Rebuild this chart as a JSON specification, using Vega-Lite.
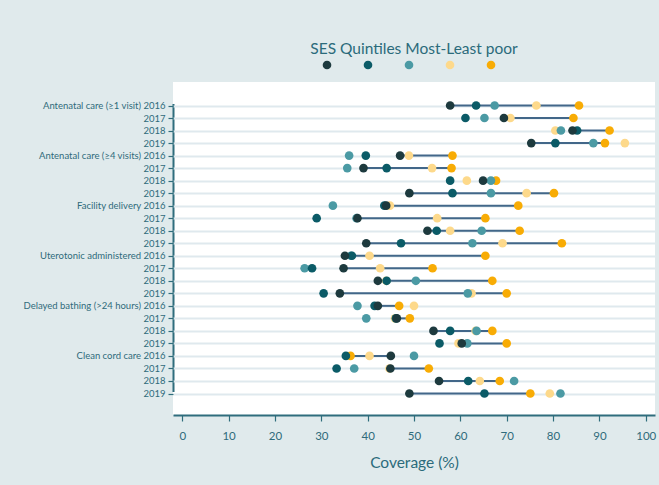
{
  "$schema": "https://vega.github.io/schema/vega-lite/v6.json",
  "width": 482,
  "height": 333,
  "autosize": {"type": "none"},
  "padding": {"left": 173, "top": 82, "right": 4, "bottom": 70},
  "background": "#e0eaec",
  "title": {"text": "SES Quintiles Most-Least poor", "frame": "group", "anchor": "middle", "fontSize": 15.5, "font": "Lato", "fontWeight": "normal", "color": "#2b6b7b", "offset": 3},
  "config": {"view": {"fill": "white", "stroke": null}, "font": "Lato"},
  "data": {"values": [
    {"r": "Antenatal care (≥1 visit)|2016", "q": "Q5", "v": 85.6}, {"r": "Antenatal care (≥1 visit)|2016", "q": "Q4", "v": 76.4}, {"r": "Antenatal care (≥1 visit)|2016", "q": "Q3", "v": 67.4}, {"r": "Antenatal care (≥1 visit)|2016", "q": "Q2", "v": 63.4}, {"r": "Antenatal care (≥1 visit)|2016", "q": "Q1", "v": 57.8},
    {"r": "Antenatal care (≥1 visit)|2017", "q": "Q5", "v": 84.4}, {"r": "Antenatal care (≥1 visit)|2017", "q": "Q4", "v": 70.8}, {"r": "Antenatal care (≥1 visit)|2017", "q": "Q3", "v": 65.2}, {"r": "Antenatal care (≥1 visit)|2017", "q": "Q2", "v": 61.1}, {"r": "Antenatal care (≥1 visit)|2017", "q": "Q1", "v": 69.4},
    {"r": "Antenatal care (≥1 visit)|2018", "q": "Q5", "v": 92.2}, {"r": "Antenatal care (≥1 visit)|2018", "q": "Q4", "v": 80.5}, {"r": "Antenatal care (≥1 visit)|2018", "q": "Q3", "v": 81.7}, {"r": "Antenatal care (≥1 visit)|2018", "q": "Q2", "v": 85.2}, {"r": "Antenatal care (≥1 visit)|2018", "q": "Q1", "v": 84.2},
    {"r": "Antenatal care (≥1 visit)|2019", "q": "Q5", "v": 91.2}, {"r": "Antenatal care (≥1 visit)|2019", "q": "Q4", "v": 95.5}, {"r": "Antenatal care (≥1 visit)|2019", "q": "Q3", "v": 88.7}, {"r": "Antenatal care (≥1 visit)|2019", "q": "Q2", "v": 80.5}, {"r": "Antenatal care (≥1 visit)|2019", "q": "Q1", "v": 75.3},
    {"r": "Antenatal care (≥4 visits)|2016", "q": "Q5", "v": 58.3}, {"r": "Antenatal care (≥4 visits)|2016", "q": "Q4", "v": 48.9}, {"r": "Antenatal care (≥4 visits)|2016", "q": "Q3", "v": 36.0}, {"r": "Antenatal care (≥4 visits)|2016", "q": "Q2", "v": 39.6}, {"r": "Antenatal care (≥4 visits)|2016", "q": "Q1", "v": 47.0},
    {"r": "Antenatal care (≥4 visits)|2017", "q": "Q5", "v": 58.1}, {"r": "Antenatal care (≥4 visits)|2017", "q": "Q4", "v": 53.9}, {"r": "Antenatal care (≥4 visits)|2017", "q": "Q3", "v": 35.6}, {"r": "Antenatal care (≥4 visits)|2017", "q": "Q2", "v": 44.1}, {"r": "Antenatal care (≥4 visits)|2017", "q": "Q1", "v": 39.1},
    {"r": "Antenatal care (≥4 visits)|2018", "q": "Q5", "v": 67.7}, {"r": "Antenatal care (≥4 visits)|2018", "q": "Q4", "v": 61.4}, {"r": "Antenatal care (≥4 visits)|2018", "q": "Q3", "v": 66.6}, {"r": "Antenatal care (≥4 visits)|2018", "q": "Q2", "v": 57.8}, {"r": "Antenatal care (≥4 visits)|2018", "q": "Q1", "v": 64.9},
    {"r": "Antenatal care (≥4 visits)|2019", "q": "Q5", "v": 80.2}, {"r": "Antenatal care (≥4 visits)|2019", "q": "Q4", "v": 74.3}, {"r": "Antenatal care (≥4 visits)|2019", "q": "Q3", "v": 66.6}, {"r": "Antenatal care (≥4 visits)|2019", "q": "Q2", "v": 58.3}, {"r": "Antenatal care (≥4 visits)|2019", "q": "Q1", "v": 49.0},
    {"r": "Facility delivery|2016", "q": "Q5", "v": 72.5}, {"r": "Facility delivery|2016", "q": "Q4", "v": 44.8}, {"r": "Facility delivery|2016", "q": "Q3", "v": 32.5}, {"r": "Facility delivery|2016", "q": "Q2", "v": 43.6}, {"r": "Facility delivery|2016", "q": "Q1", "v": 44.0},
    {"r": "Facility delivery|2017", "q": "Q5", "v": 65.4}, {"r": "Facility delivery|2017", "q": "Q4", "v": 55.0}, {"r": "Facility delivery|2017", "q": "Q3", "v": 37.6}, {"r": "Facility delivery|2017", "q": "Q2", "v": 29.0}, {"r": "Facility delivery|2017", "q": "Q1", "v": 37.8},
    {"r": "Facility delivery|2018", "q": "Q5", "v": 72.8}, {"r": "Facility delivery|2018", "q": "Q4", "v": 57.8}, {"r": "Facility delivery|2018", "q": "Q3", "v": 64.6}, {"r": "Facility delivery|2018", "q": "Q2", "v": 54.9}, {"r": "Facility delivery|2018", "q": "Q1", "v": 52.9},
    {"r": "Facility delivery|2019", "q": "Q5", "v": 81.9}, {"r": "Facility delivery|2019", "q": "Q4", "v": 69.1}, {"r": "Facility delivery|2019", "q": "Q3", "v": 62.6}, {"r": "Facility delivery|2019", "q": "Q2", "v": 47.2}, {"r": "Facility delivery|2019", "q": "Q1", "v": 39.7},
    {"r": "Uterotonic administered|2016", "q": "Q5", "v": 65.4}, {"r": "Uterotonic administered|2016", "q": "Q4", "v": 40.4}, {"r": "Uterotonic administered|2016", "q": "Q3", "v": 36.4}, {"r": "Uterotonic administered|2016", "q": "Q2", "v": 36.6}, {"r": "Uterotonic administered|2016", "q": "Q1", "v": 35.1},
    {"r": "Uterotonic administered|2017", "q": "Q5", "v": 54.0}, {"r": "Uterotonic administered|2017", "q": "Q4", "v": 42.7}, {"r": "Uterotonic administered|2017", "q": "Q3", "v": 26.4}, {"r": "Uterotonic administered|2017", "q": "Q2", "v": 28.0}, {"r": "Uterotonic administered|2017", "q": "Q1", "v": 34.8},
    {"r": "Uterotonic administered|2018", "q": "Q5", "v": 66.9}, {"r": "Uterotonic administered|2018", "q": "Q4", "v": 44.0}, {"r": "Uterotonic administered|2018", "q": "Q3", "v": 50.4}, {"r": "Uterotonic administered|2018", "q": "Q2", "v": 44.1}, {"r": "Uterotonic administered|2018", "q": "Q1", "v": 42.2},
    {"r": "Uterotonic administered|2019", "q": "Q5", "v": 70.0}, {"r": "Uterotonic administered|2019", "q": "Q4", "v": 62.4}, {"r": "Uterotonic administered|2019", "q": "Q3", "v": 61.6}, {"r": "Uterotonic administered|2019", "q": "Q2", "v": 30.5}, {"r": "Uterotonic administered|2019", "q": "Q1", "v": 34.0},
    {"r": "Delayed bathing (>24 hours)|2016", "q": "Q5", "v": 46.8}, {"r": "Delayed bathing (>24 hours)|2016", "q": "Q4", "v": 50.0}, {"r": "Delayed bathing (>24 hours)|2016", "q": "Q3", "v": 37.8}, {"r": "Delayed bathing (>24 hours)|2016", "q": "Q2", "v": 41.5}, {"r": "Delayed bathing (>24 hours)|2016", "q": "Q1", "v": 42.2},
    {"r": "Delayed bathing (>24 hours)|2017", "q": "Q5", "v": 49.1}, {"r": "Delayed bathing (>24 hours)|2017", "q": "Q4", "v": 45.9}, {"r": "Delayed bathing (>24 hours)|2017", "q": "Q3", "v": 39.7}, {"r": "Delayed bathing (>24 hours)|2017", "q": "Q2", "v": 46.1}, {"r": "Delayed bathing (>24 hours)|2017", "q": "Q1", "v": 46.3},
    {"r": "Delayed bathing (>24 hours)|2018", "q": "Q5", "v": 66.9}, {"r": "Delayed bathing (>24 hours)|2018", "q": "Q4", "v": 63.3}, {"r": "Delayed bathing (>24 hours)|2018", "q": "Q3", "v": 63.5}, {"r": "Delayed bathing (>24 hours)|2018", "q": "Q2", "v": 57.8}, {"r": "Delayed bathing (>24 hours)|2018", "q": "Q1", "v": 54.2},
    {"r": "Delayed bathing (>24 hours)|2019", "q": "Q5", "v": 70.0}, {"r": "Delayed bathing (>24 hours)|2019", "q": "Q4", "v": 59.6}, {"r": "Delayed bathing (>24 hours)|2019", "q": "Q3", "v": 61.5}, {"r": "Delayed bathing (>24 hours)|2019", "q": "Q2", "v": 55.5}, {"r": "Delayed bathing (>24 hours)|2019", "q": "Q1", "v": 60.3},
    {"r": "Clean cord care|2016", "q": "Q5", "v": 36.3}, {"r": "Clean cord care|2016", "q": "Q4", "v": 40.4}, {"r": "Clean cord care|2016", "q": "Q3", "v": 50.0}, {"r": "Clean cord care|2016", "q": "Q2", "v": 35.3}, {"r": "Clean cord care|2016", "q": "Q1", "v": 45.0},
    {"r": "Clean cord care|2017", "q": "Q5", "v": 53.2}, {"r": "Clean cord care|2017", "q": "Q4", "v": 44.7}, {"r": "Clean cord care|2017", "q": "Q3", "v": 37.1}, {"r": "Clean cord care|2017", "q": "Q2", "v": 33.3}, {"r": "Clean cord care|2017", "q": "Q1", "v": 44.9},
    {"r": "Clean cord care|2018", "q": "Q5", "v": 68.5}, {"r": "Clean cord care|2018", "q": "Q4", "v": 64.2}, {"r": "Clean cord care|2018", "q": "Q3", "v": 71.6}, {"r": "Clean cord care|2018", "q": "Q2", "v": 61.7}, {"r": "Clean cord care|2018", "q": "Q1", "v": 55.4},
    {"r": "Clean cord care|2019", "q": "Q5", "v": 75.1}, {"r": "Clean cord care|2019", "q": "Q4", "v": 79.3}, {"r": "Clean cord care|2019", "q": "Q3", "v": 81.6}, {"r": "Clean cord care|2019", "q": "Q2", "v": 65.2}, {"r": "Clean cord care|2019", "q": "Q1", "v": 49.0}
  ]},
  "encoding": {
    "y": {
      "field": "r", "type": "nominal", "sort": null,
      "scale": {"type": "point", "padding": 0, "range": [23.5, 311.5]},
      "axis": {
        "title": null, "domain": false,
        "labelExpr": "split(datum.value,'|')[1]=='2016' ? replace(datum.value,'|',' ') : split(datum.value,'|')[1]",
        "labelFont": "Lato", "labelFontSize": 9.5, "labelColor": "#2f6b7b", "labelPadding": 3,
        "grid": true, "gridColor": "#dfe9ee", "gridWidth": 2,
        "tickColor": "#2f6d7d", "tickSize": 5, "tickWidth": 1.2
      }
    },
    "x": {
      "field": "v", "type": "quantitative",
      "scale": {"domain": [-2, 102], "nice": false, "zero": false},
      "axis": {
        "title": "Coverage (%)", "values": [-2, 0, 10, 20, 30, 40, 50, 60, 70, 80, 90, 100],
        "labelExpr": "datum.value < 0 ? '' : datum.label",
        "grid": true, "gridWidth": 2,
        "gridColor": {"condition": {"test": "datum.value < 0", "value": "#2f6d7d"}, "value": "transparent"},
        "labelFont": "Lato", "labelFontSize": 11.5, "labelColor": "#2f6b7b", "labelPadding": 9,
        "titleFont": "Lato", "titleFontSize": 15.5, "titleFontWeight": "normal", "titleColor": "#2b6b7b", "titlePadding": 14,
        "domainColor": "#2f6d7d", "domainWidth": 2,
        "tickColor": {"condition": {"test": "datum.value < 0", "value": "transparent"}, "value": "#2f6d7d"},
        "tickSize": 6, "tickWidth": 1.2
      }
    }
  },
  "layer": [
    {
      "transform": [{"filter": "datum.q=='Q1' || datum.q=='Q5'"}],
      "mark": {"type": "line", "color": "#426789", "strokeWidth": 2},
      "encoding": {"detail": {"field": "r", "type": "nominal"}}
    },
    {
      "mark": {"type": "circle", "size": 75, "opacity": 1},
      "encoding": {
        "color": {
          "field": "q", "type": "nominal",
          "scale": {"domain": ["Q1", "Q2", "Q3", "Q4", "Q5"], "range": ["#1d3a3e", "#0b5b67", "#4b9aa4", "#fdd98b", "#f8ac05"]},
          "legend": {
            "orient": "none", "legendX": 149, "legendY": -22, "direction": "horizontal", "columns": 5,
            "title": null, "labelExpr": "''", "labelOffset": 0, "columnPadding": 31,
            "symbolType": "circle", "symbolSize": 75, "symbolStrokeWidth": 0, "symbolOpacity": 1
          }
        }
      }
    }
  ]
}
